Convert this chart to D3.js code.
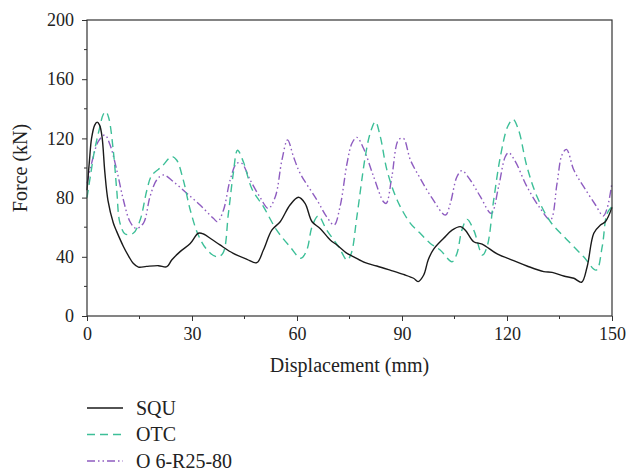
<!DOCTYPE html>
<html>
<head>
<meta charset="utf-8">
<script src="https://cdn.jsdelivr.net/npm/d3@7"></script>
<style>
  body { margin: 0; background: #fff; }
  svg text { font-family: "Liberation Serif", "DejaVu Serif", serif; fill: #222; }
</style>
</head>
<body>
<svg id="chart" width="626" height="471"></svg>
<script>
// series values: [displacement (mm), force (kN)]
var squ = [[0,85],[0.7,105],[1.3,120],[2.2,129],[2.9,131],[3.6,129],[4.3,121],[5.1,97],[6,78],[7.5,63],[8.5,57],
  [10.4,47],[12,40],[13.2,35.6],[14.7,33],[17,33.5],[20.4,34],[22.8,33.3],[24.2,37.8],[26.6,43.5],[29.5,49],
  [31.8,55.9],[33.3,55.4],[35.5,52],[38,48],[41.8,42.3],[45.7,38.3],[48.5,36],[50.4,44.6],[52.8,58],[55.2,63.7],
  [58,75],[60.4,80.2],[62.3,76.1],[64.3,63.7],[66.6,59.2],[69.5,51.4],[71.4,48],[74.3,42.3],[76.2,40],[79.5,36],
  [82.8,33.8],[86.6,31],[90.4,28.1],[93.3,25.5],[94.6,23.2],[96.2,27.7],[97.5,38],[99,45],[101.9,52.5],[104.3,58],
  [106.7,60.4],[108.1,58],[110.5,50.2],[112.9,48.6],[117.2,41.9],[121.9,37.4],[125.7,33.8],[130.5,30],[132.9,29.5],
  [136.2,27],[139.1,25.5],[141.3,22.8],[142.9,33.3],[144.8,55.9],[146.7,61.5],[148.1,63.7],[150,73.4]];

var otc = [[0,80],[1,95],[2,110],[2.8,119],[3.7,128],[4.6,136],[5.4,138],[6.2,134],[7.5,112],[8.5,85],[9.4,63],
  [10.9,55.4],[13.2,55.9],[15.2,65],[17.1,85],[18.5,95],[21.4,101],[24.2,107.7],[25.6,105.4],[27.5,92],[29.5,71.6],
  [31.8,54.7],[34.2,45],[37.1,40],[38.8,42.3],[40.4,69.3],[41.8,96.4],[43,112],[44.7,104],[47.1,86],[50.4,73.9],
  [54.2,58],[58,46.8],[61.1,39],[62.8,44.6],[64.3,60.4],[66.1,67.6],[68.5,58],[71.9,46.8],[74.3,37.8],[75.5,42.3],
  [77.1,67],[79.5,107.6],[80.9,123.4],[82.4,131.3],[83.8,121.2],[85.7,98.6],[88.6,78.4],[92.4,62.6],[95.2,55.9],
  [98.1,49],[100.9,44.6],[104.3,36.7],[105.7,42.3],[107.1,58],[108.6,65.3],[110.5,58],[113,41.2],[114.3,46.8],
  [116.2,78.4],[118.1,107.6],[120.2,128],[121.7,132.9],[123.3,125.7],[125.7,100.9],[128.6,80.6],[132.4,63.7],
  [137.2,51.4],[141.9,40],[145.5,31],[147.2,46.8],[148.6,69.3],[150,73.9]];

var o6 = [[0,89.6],[1.8,107.6],[3.2,117.8],[5.1,122.3],[6.6,115.5],[8.5,98.6],[10.4,78.4],[12.3,63.7],[14,59.2],
  [16.1,62.6],[18,80.6],[19.9,91.9],[21.8,95.3],[24.7,90.7],[28.5,82.9],[32.3,75],[36.1,66],[37.3,63.7],[39,71.6],
  [40.9,91.9],[42.8,103.2],[44.2,103.2],[46.6,92],[49.5,80],[51.8,72.7],[53.8,80.6],[55.7,105.4],[57.3,119],
  [59,107.6],[60.9,96.4],[65.7,78.4],[68.5,67],[70.6,61.5],[72.3,73.9],[74.3,103.2],[75.7,116.7],[77.1,120.7],
  [79,113.3],[81.9,94.1],[84.7,77.2],[85.5,76.1],[87.1,94.1],[89,119],[90.4,120],[92.4,105.4],[95.2,93],[98.5,80],
  [102.4,68.2],[103.8,76.1],[105.7,94.1],[107.1,98.2],[109.5,91.9],[112.4,80.6],[115.5,69.3],[117.6,87.4],
  [119.5,107.6],[120.5,110.3],[122.4,104.3],[125.7,87.4],[129.5,72.7],[132.4,64.9],[134.3,89.6],[135.7,108.8],
  [137,112.6],[139.1,98.6],[141.9,87.4],[145.3,75],[147.5,67.6],[148.6,72.7],[150,90.1]];

var seriesNames = ["SQU", "OTC", "O 6-R25-80"];
var xTicks = [0, 30, 60, 90, 120, 150];
var yTicks = [0, 40, 80, 120, 160, 200];

var svg = d3.select("#chart");
var margin = {left: 87, right: 14, top: 20, bottom: 155};
var width = 626 - margin.left - margin.right,
    height = 471 - margin.top - margin.bottom;

var x = d3.scaleLinear().domain([0, 150]).range([0, width]);
var y = d3.scaleLinear().domain([0, 200]).range([height, 0]);

var g = svg.append("g").attr("transform", `translate(${margin.left},${margin.top})`);

var styles = [
  {color: "#1a1a1a", dash: null},
  {color: "#3dbf98", dash: "8,5"},
  {color: "#8e5cc0", dash: "8,3,1.5,3,1.5,3"}
];

var line = d3.line()
    .x((d) => x(d[0]))
    .y((d) => y(d[1]))
    .curve(d3.curveCatmullRom.alpha(0.5));

// draw the lines, purple first so black ends up on top
var data = [squ, otc, o6];
[2, 1, 0].forEach(function(i) {
  g.append("path")
      .datum(data[i])
      .attr("d", line)
      .attr("fill", "none")
      .attr("stroke", styles[i].color)
      .attr("stroke-width", 1.4)
      .attr("stroke-dasharray", styles[i].dash);
});

// minor ticks
var minorX = d3.range(15, 150, 30), minorY = d3.range(20, 200, 40);
g.selectAll(".mx").data(minorX).enter().append("line")
    .attr("x1", (d) => x(d)).attr("x2", (d) => x(d))
    .attr("y1", height).attr("y2", height + 3)
    .attr("stroke", "#333");
g.selectAll(".my").data(minorY).enter().append("line")
    .attr("y1", (d) => y(d)).attr("y2", (d) => y(d))
    .attr("x1", 0).attr("x2", -3)
    .attr("stroke", "#333");

var xAxis = g.append("g")
    .attr("transform", `translate(0,${height})`)
    .call(d3.axisBottom(x).tickValues(xTicks).tickSize(5).tickPadding(6).tickSizeOuter(0));
var yAxis = g.append("g")
    .call(d3.axisLeft(y).tickValues(yTicks).tickSize(5).tickPadding(8).tickSizeOuter(0));

[xAxis, yAxis].forEach(function(a) {
  a.select(".domain").remove();
  a.selectAll("line").attr("stroke", "#333");
  a.selectAll("text")
      .style("font-family", '"Liberation Serif", serif')
      .style("font-size", "18px")
      .attr("fill", "#222");
});

// frame
g.append("rect")
    .attr("width", width).attr("height", height)
    .attr("fill", "none")
    .attr("stroke", "#333")
    .attr("stroke-width", 1.2);

// axis titles
g.append("text")
    .attr("x", width / 2).attr("y", height + 56)
    .attr("text-anchor", "middle")
    .style("font-size", "20px")
    .text("Displacement (mm)");
g.append("text")
    .attr("transform", `translate(${-60},${height / 2}) rotate(-90)`)
    .attr("text-anchor", "middle")
    .style("font-size", "20px")
    .text("Force (kN)");

// legend
var legend = svg.append("g").attr("transform", "translate(87,408)");
seriesNames.forEach(function(name, i) {
  var row = legend.append("g").attr("transform", `translate(0,${i * 26.5})`);
  row.append("line")
      .attr("x1", 0).attr("x2", 36)
      .attr("stroke", styles[i].color)
      .attr("stroke-width", 1.4)
      .attr("stroke-dasharray", styles[i].dash);
  row.append("text")
      .attr("x", 49).attr("y", 6.5)
      .style("font-size", "20px")
      .text(name);
});
</script>
</body>
</html>
